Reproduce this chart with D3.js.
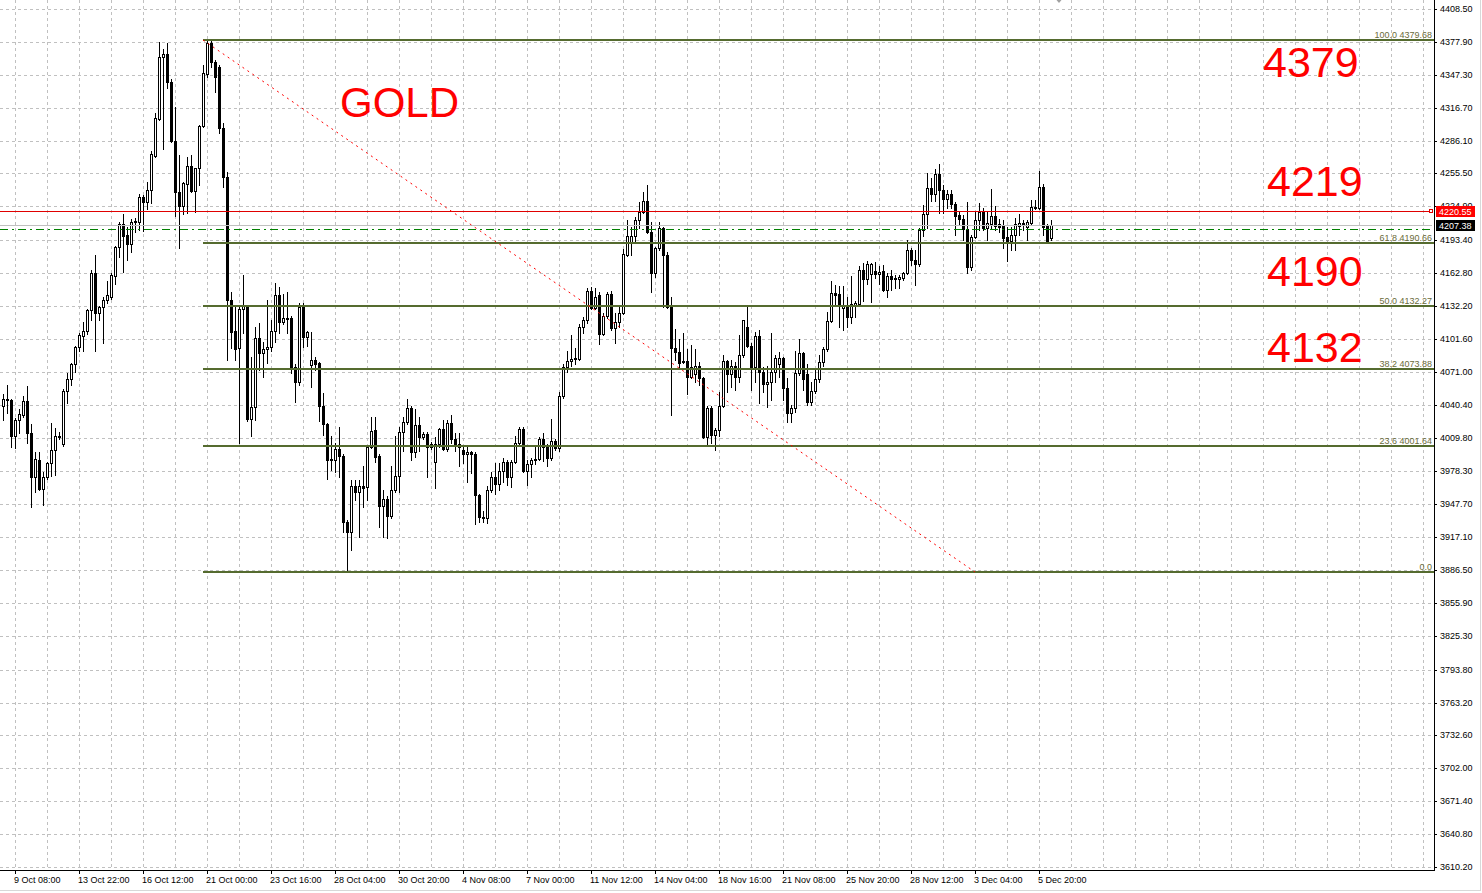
<!DOCTYPE html>
<html><head><meta charset="utf-8">
<script src="https://cdn.jsdelivr.net/npm/d3@7"></script>
<style>html,body{margin:0;padding:0;background:#fff;overflow:hidden}svg{display:block}</style>
</head><body><svg id="c" width="1482" height="893"></svg>
<script>
// ---- DATA (GOLD, H4 candles) ----
const opens = [
4039,4045,4045,4011,4026,4031,4044,4014,3973,3989,
3962,3973,3986,3998,4011,4004,4053,4064,4078,4094,
4104,4109,4128,4163,4126,4131,4138,4141,4160,4187,
4208,4198,4190,4210,4210,4234,4229,4240,4272,4306,
4364,4367,4341,4286,4238,4225,4246,4262,4239,4261,
4300,4348,4377,4359,4355,4298,4252,4138,4109,4093,
4129,4132,4027,4038,4102,4088,4092,4094,4109,4142,
4117,4121,4121,4075,4061,4131,4103,4077,4082,4079,
4039,4022,3990,3989,3999,3993,3931,3922,3965,3959,
3965,3964,4001,4017,3993,3946,3953,3937,3961,3974,
4015,4024,4037,3996,4021,4010,4013,4001,3987,4004,
4018,3999,4023,4008,4004,3998,3994,3996,3994,3956,
3936,3935,3961,3973,3967,3979,3987,3973,3987,4005,
4018,3979,3985,3989,3990,4008,4001,3991,4007,4000,
4048,4075,4081,4084,4083,4113,4119,4146,4130,4142,
4106,4123,4143,4112,4117,4126,4180,4192,4197,4212,
4220,4230,4201,4163,4186,4205,4180,4131,4093,4089,
4080,4081,4066,4069,4076,4065,4010,4037,4012,4017,
4039,4081,4069,4076,4066,4087,4113,4095,4075,4104,
4071,4060,4061,4071,4078,4084,4056,4033,4037,4070,
4088,4069,4043,4053,4064,4080,4092,4118,4144,4143,
4130,4132,4122,4132,4134,4166,4157,4162,4165,4162,
4165,4147,4160,4157,4157,4158,4163,4184,4175,4171,
4203,4218,4242,4236,4255,4240,4232,4236,4227,4217,
4213,4204,4168,4196,4212,4220,4205,4208,4216,4208,
4207,4196,4193,4198,4207,4208,4206,4209,4224,4223,
4243,4207,4195];
const highs = [
4050,4059,4046,4028,4036,4048,4058,4022,3996,3996,
3978,3987,4023,4019,4015,4055,4070,4079,4095,4107,
4117,4129,4166,4180,4132,4141,4155,4163,4188,4210,
4218,4206,4213,4214,4236,4235,4248,4276,4312,4378,
4371,4377,4343,4317,4273,4248,4271,4273,4261,4301,
4356,4379.68,4379,4361,4356,4302,4257,4145,4133,4132,
4161,4133,4085,4113,4116,4099,4138,4119,4154,4150,
4143,4145,4123,4078,4135,4135,4109,4108,4085,4080,
4051,4023,4011,4005,4020,3994,3933,3970,3970,3970,
3983,4003,4029,4029,3994,3961,3955,3983,4011,4020,
4029,4046,4039,4036,4029,4015,4015,4006,4010,4019,
4026,4026,4031,4014,4014,4001,4001,3997,3996,3957,
3941,3965,3978,3986,3986,3991,3989,3989,4011,4020,
4020,3989,3991,4001,4010,4014,4004,4027,4008,4052,
4078,4090,4105,4093,4115,4122,4149,4150,4149,4145,
4126,4145,4146,4126,4131,4185,4212,4206,4215,4229,
4238,4245,4210,4187,4210,4206,4182,4141,4111,4101,
4107,4092,4096,4092,4080,4066,4039,4039,4019,4052,
4087,4082,4082,4080,4105,4119,4131,4098,4108,4110,
4075,4076,4107,4087,4089,4085,4065,4040,4090,4101,
4089,4078,4061,4073,4087,4094,4127,4155,4152,4151,
4151,4141,4160,4137,4169,4172,4174,4172,4173,4169,
4170,4163,4166,4161,4161,4164,4194,4186,4184,4205,
4226,4256,4251,4260,4264,4245,4240,4240,4229,4220,
4217,4229,4198,4220,4228,4223,4220,4241,4225,4213,
4212,4206,4206,4214,4218,4212,4212,4231,4231,4258,
4246,4208,4212];
const lows = [
4026,4033,4001,4000,4014,4029,4005,3945,3959,3961,
3947,3971,3974,3975,4008,4002,4042,4059,4071,4090,
4090,4106,4119,4090,4119,4098,4135,4139,4153,4178,
4164,4175,4182,4201,4203,4202,4222,4228,4271,4305,
4278,4335,4285,4216,4186,4218,4219,4238,4220,4245,
4299,4345,4355,4331,4293,4243,4082,4093,4082,4005,
4107,4025,4011,4026,4073,4066,4079,4090,4099,4107,
4115,4107,4070,4043,4059,4094,4095,4057,4073,4025,
4012,3971,3980,3978,3973,3922,3884.86,3905,3952,3917,
3945,3952,4000,3987,3927,3917,3916,3935,3959,3959,
3997,4022,3989,3992,3997,4008,3973,3999,3963,4001,
3998,3997,4005,3997,3983,3986,3968,3977,3929,3931,
3931,3930,3959,3957,3961,3968,3966,3964,3986,4003,
3978,3966,3973,3985,3989,3988,3983,3989,3998,3997,
4047,4071,4076,4078,4082,4107,4116,4129,4129,4097,
4105,4121,4110,4098,4113,4125,4179,4180,4192,4205,
4219,4200,4145,4159,4184,4131,4130,4031,4082,4075,
4079,4050,4065,4061,4059,4009,4003,4005,3998,4011,
4038,4052,4057,4054,4061,4085,4094,4054,4061,4042,
4052,4038,4045,4061,4066,4045,4024,4024,4034,4068,
4054,4040,4040,4051,4061,4076,4090,4117,4132,4113,
4110,4113,4116,4122,4133,4137,4153,4136,4158,4153,
4146,4141,4147,4149,4149,4156,4162,4170,4152,4169,
4197,4205,4230,4230,4219,4219,4223,4223,4198,4208,
4194,4163,4166,4195,4203,4203,4194,4204,4203,4201,
4186,4174,4184,4184,4198,4203,4194,4208,4222,4222,
4198,4192,4194];
const closes = [
4046,4046,4011,4026,4032,4044,4014,3973,3990,3962,
3973,3986,3998,4011,4010,4053,4064,4078,4094,4105,
4109,4128,4163,4126,4131,4138,4142,4161,4187,4208,
4197,4190,4210,4211,4234,4229,4240,4274,4307,4364,
4367,4341,4286,4238,4225,4247,4262,4239,4261,4300,
4349,4377,4359,4345,4298,4252,4138,4108,4092,4129,
4132,4027,4038,4102,4088,4092,4094,4109,4142,4117,
4121,4120,4075,4061,4131,4103,4108,4082,4078,4039,
4022,3989,3989,3999,3993,3931,3922,3965,3959,3965,
3963,4001,4016,3992,3946,3953,3937,3961,3974,4015,
4024,4037,3996,4021,4010,4013,4001,4004,4004,4018,
3999,4023,4008,4004,4001,3994,3996,3994,3956,3936,
3935,3961,3973,3967,3979,3987,3973,3987,4005,4018,
3979,3985,3989,3990,4008,4001,3991,4007,4000,4048,
4075,4081,4083,4083,4113,4119,4146,4130,4141,4106,
4123,4143,4112,4117,4126,4181,4197,4197,4212,4220,
4230,4201,4163,4186,4205,4180,4131,4093,4089,4079,
4081,4066,4075,4076,4065,4010,4037,4012,4017,4039,
4081,4069,4076,4066,4087,4119,4095,4075,4104,4071,
4060,4061,4071,4084,4084,4056,4033,4037,4070,4088,
4064,4043,4053,4064,4080,4092,4118,4144,4142,4132,
4133,4122,4134,4135,4166,4157,4171,4171,4162,4164,
4147,4160,4157,4158,4159,4163,4184,4175,4171,4203,
4218,4242,4236,4255,4240,4232,4236,4227,4216,4213,
4204,4168,4196,4212,4220,4205,4209,4216,4207,4206,
4195,4193,4198,4208,4209,4209,4210,4224,4223,4243,
4206,4193,4207.38];

const priceTicks = [4408.50,4377.90,4347.30,4316.70,4286.10,4255.50,4224.90,4193.40,4162.80,
  4132.20,4101.60,4071.00,4040.40,4009.80,3978.30,3947.70,3917.10,3886.50,3855.90,3825.30,
  3793.80,3763.20,3732.60,3702.00,3671.40,3640.80,3610.20];
const timeLabels = ["9 Oct 08:00","13 Oct 22:00","16 Oct 12:00","21 Oct 00:00","23 Oct 16:00",
  "28 Oct 04:00","30 Oct 20:00","4 Nov 08:00","7 Nov 00:00","11 Nov 12:00","14 Nov 04:00",
  "18 Nov 16:00","21 Nov 08:00","25 Nov 20:00","28 Nov 12:00","3 Dec 04:00","5 Dec 20:00"];
const timeLabelBars = [3,19,35,51,67,83,99,115,131,147,163,179,195,211,227,243,259];

const fibLevels = [100.0, 61.8, 50.0, 38.2, 23.6, 0.0];
const fibLabels = ["100.0 4379.68","61.8 4190.66","50.0 4132.27","38.2 4073.88","23.6 4001.64","0.0"];
const fibHigh = 4379.68, fibLow = 3884.86;
const fibStartBar = 50, fibEndBar = 243;

const bidPrice = 4207.38;
const alertPrice = 4220.55;
const greenLinePrice = 4204.1;
const shiftMarkerBar = 264;

const notes = ["GOLD","4379","4219","4190","4132"];

// ---- CHART ----
const svg = d3.select('#c');
const plotRight = 1434, plotBottom = 870;
const x = d3.scaleLinear().domain([0,1]).rangeRound([3,7]);
const y = d3.scaleLinear().domain([3610.2,4408.5]).rangeRound([867,9]);
const FONT = '"Liberation Sans", Arial, sans-serif';

svg.append('rect').attr('width',1482).attr('height',893).attr('fill','#fff');

// grid
const grid = svg.append('g').attr('stroke','#c0c0c0').attr('stroke-dasharray','3,3').attr('stroke-width',1);
const vIdx = d3.range(3, 400, 8).filter(i => x(i) < plotRight - 2);
grid.selectAll('line.v').data(vIdx).join('line')
  .attr('x1', d => x(d)+0.5).attr('x2', d => x(d)+0.5).attr('y1',0).attr('y2',plotBottom);
grid.selectAll('line.h').data(priceTicks).join('line')
  .attr('x1',0).attr('x2',plotRight).attr('y1', d => y(d)+0.5).attr('y2', d => y(d)+0.5);

// candles
const bars = opens.map((o,i)=>({i,o,h:highs[i],l:lows[i],c:closes[i]}));
const cg = svg.append('g');
cg.selectAll('line.w').data(bars).join('line')
  .attr('x1', d => x(d.i)+0.5).attr('x2', d => x(d.i)+0.5)
  .attr('y1', d => y(d.h)).attr('y2', d => y(d.l)+1)
  .attr('stroke','#000').attr('stroke-width',1);
cg.selectAll('rect.b').data(bars).join('rect')
  .each(function(d){
    const r = d3.select(this);
    const top = Math.min(y(d.o), y(d.c)), bot = Math.max(y(d.o), y(d.c));
    const cx = x(d.i);
    if (bot - top < 2) {
      r.attr('x',cx-1).attr('y',top).attr('width',3).attr('height',Math.max(1,bot-top+1)).attr('fill','#000');
    } else if (d.c >= d.o) {
      r.attr('x',cx-0.5).attr('y',top+0.5).attr('width',2).attr('height',bot-top)
       .attr('fill','#fff').attr('stroke','#000').attr('stroke-width',1);
    } else {
      r.attr('x',cx-1).attr('y',top).attr('width',3).attr('height',bot-top+1).attr('fill','#000');
    }
  });

// horizontal price lines
svg.append('line').attr('x1',0).attr('x2',1432).attr('y1',y(bidPrice)+0.5).attr('y2',y(bidPrice)+0.5)
  .attr('stroke','#c0c0c0');
svg.append('line').attr('x1',0).attr('x2',1430).attr('y1',y(greenLinePrice)+0.5).attr('y2',y(greenLinePrice)+0.5)
  .attr('stroke','#008000').attr('stroke-dasharray','8,4,2,4');
svg.append('line').attr('x1',0).attr('x2',1430).attr('y1',y(alertPrice)+0.5).attr('y2',y(alertPrice)+0.5)
  .attr('stroke','#e00000');
svg.append('rect').attr('x',1429.5).attr('y',y(alertPrice)-1.5).attr('width',3).attr('height',3)
  .attr('fill','#fff').attr('stroke','#e00000');

// fibonacci
const fibPrice = lv => fibLow + (fibHigh-fibLow)*lv/100;
const fg = svg.append('g');
fg.selectAll('line').data(fibLevels).join('line')
  .attr('x1', x(fibStartBar)).attr('x2', plotRight)
  .attr('y1', d => y(fibPrice(d))).attr('y2', d => y(fibPrice(d)))
  .attr('stroke','#556b2f').attr('stroke-width',2);
fg.selectAll('text').data(fibLevels).join('text')
  .attr('x',1432).attr('y', d => y(fibPrice(d))-2.5)
  .attr('text-anchor','end').attr('font-family',FONT).attr('font-size',9)
  .attr('fill','#6b6b3a').text((d,k)=>fibLabels[k]);
svg.append('line')
  .attr('x1', x(fibStartBar)).attr('y1', y(fibHigh))
  .attr('x2', x(fibEndBar)).attr('y2', y(fibLow))
  .attr('stroke','#ff0000').attr('stroke-width',1).attr('stroke-dasharray','2,4');

// chart shift marker
const sx = x(shiftMarkerBar);
svg.append('path').attr('d',`M${sx-2.5},0 L${sx+2.5},0 L${sx},3 Z`).attr('fill','#a0a0a0');

// axes
const yAxis = d3.axisRight(y).tickValues(priceTicks).tickSize(3).tickPadding(3)
  .tickFormat(d3.format('.2f'));
const ya = svg.append('g').attr('transform',`translate(${plotRight},0)`).call(yAxis);
ya.select('.domain').remove();
ya.selectAll('text').attr('font-family',FONT).attr('font-size',9).attr('fill','#000');
ya.selectAll('line').attr('stroke','#000');

const xAxis = d3.axisBottom(x).tickValues(timeLabelBars).tickSize(4).tickPadding(3)
  .tickFormat((d,k)=>timeLabels[k]);
const xa = svg.append('g').attr('transform',`translate(0,${plotBottom})`).call(xAxis);
xa.select('.domain').remove();
xa.selectAll('text').attr('font-family',FONT).attr('font-size',9).attr('fill','#000')
  .attr('text-anchor','start').attr('x',-1.5);
xa.selectAll('line').attr('stroke','#000');

svg.append('line').attr('x1',plotRight+0.5).attr('x2',plotRight+0.5).attr('y1',0).attr('y2',plotBottom+1).attr('stroke','#000');
svg.append('line').attr('x1',0).attr('x2',plotRight+1).attr('y1',plotBottom+0.5).attr('y2',plotBottom+0.5).attr('stroke','#000');

// price boxes
function priceBox(p, bg){
  const yy = y(p);
  svg.append('rect').attr('x',1436).attr('y',yy-5).attr('width',39).attr('height',11).attr('fill',bg);
  svg.append('text').attr('x',1439).attr('y',yy+3.5).attr('font-family',FONT).attr('font-size',9)
    .attr('fill','#fff').text(d3.format('.2f')(p));
}
priceBox(alertPrice,'#ff0000');
priceBox(bidPrice,'#000');

// window borders
svg.append('line').attr('x1',1480.5).attr('x2',1480.5).attr('y1',0).attr('y2',890).attr('stroke','#d8d8d8');
svg.append('line').attr('x1',0).attr('x2',1481).attr('y1',890.5).attr('y2',890.5).attr('stroke','#d8d8d8');

// annotations
const notePos = [[340,117,42],[1263,77,43],[1267,196,43],[1267,286,43],[1267,362,43]];
svg.selectAll('text.note').data(notes).join('text').attr('class','note')
  .attr('x',(d,k)=>notePos[k][0]).attr('y',(d,k)=>notePos[k][1])
  .attr('font-family',FONT).attr('font-size',(d,k)=>notePos[k][2]).attr('fill','#ff0000')
  .text(d=>d);
</script>
</body></html>
